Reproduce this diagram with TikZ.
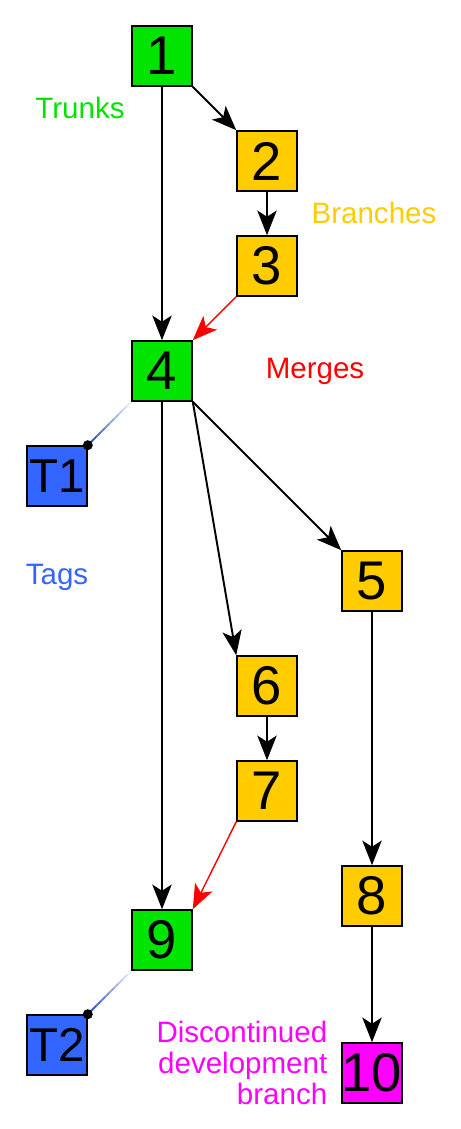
\documentclass[tikz,border=0pt]{standalone}
\usepackage{fontspec}
\setmainfont{Liberation Sans}
\usetikzlibrary{arrows.meta,positioning,calc}
\definecolor{trunkgreen}{RGB}{0,228,0}
\definecolor{branchgold}{RGB}{255,204,0}
\definecolor{tagblue}{RGB}{51,102,255}
\definecolor{deadmagenta}{RGB}{255,0,255}

\begin{document}
\begin{tikzpicture}[->,>={Stealth[length=14pt,width=11pt,inset=3.5pt]},node distance=2.1cm,line width=1.1pt,
        revbox/.style={draw,line width=0.9pt,minimum size=1.2cm,inner sep=0pt,font=\fontsize{31}{31}\selectfont},
        trunk/.style={revbox,fill=trunkgreen},
        branch/.style={revbox,fill=branchgold},
        dead/.style={revbox,fill=deadmagenta},
        tag/.style={revbox,fill=tagblue,font=\fontsize{27}{27}\selectfont},
        legendtext/.style={inner sep=0pt,font=\fontsize{16.8}{17.6}\selectfont},
        merge/.style={red,line width=0.8pt}]
        \useasboundingbox (0,0) rectangle (9.2,-22.58);

        \node[trunk] (one) at (3.24,-1.12)
            {1};

        \node[branch] (two) [below of=one, xshift=2.1cm]
            {2};

        \node[branch] (three) [below of=two]
            {3};

        \node[trunk] (four) [below of=three, xshift=-2.1cm]
            {4};

        \node[tag] (tone) [below of=four, xshift=-2.1cm]
            {T1};

        \node[branch] (five) [below of=four, xshift=4.2cm, yshift=-2.1cm]
            {5};

        \node[branch] (six) [below of=five, xshift=-2.1cm]
            {6};

        \node[branch] (seven) [below of=six]
            {7};

        \node[branch] (eight) [below of=seven, xshift=2.1cm]
            {8};

        \node[trunk] (nine) [below of=seven, xshift=-2.1cm, yshift=-0.88cm]
            {9};

        \node[tag] (ttwo) [below of=nine, xshift=-2.1cm]
            {T2};

        \node[dead] (ten) [below of=eight, yshift=-1.44cm]
            {\makebox[0pt]{10}};

        % legend
        \node[legendtext, text=trunkgreen] (trunks) [left of=one, xshift=0.46cm, yshift=-1.04cm]
            {Trunks};

        \node[legendtext, text=branchgold] (branches) [right of=two, xshift=0.04cm, yshift=-1.04cm]
            {Branches};

        \node[legendtext, text=red] (merges) [right of=four, xshift=0.96cm]
            {Merges};

        \node[legendtext, text=tagblue] (tags) [below of=tone, yshift=0.08cm]
            {Tags};

        \node[legendtext, text=deadmagenta, align=right] (discontinued) [left=0.26cm of ten, yshift=0.2cm]
            {Discontinued\\development\\branch};

        \path
        (one)               edge                (two)
        (one)               edge                (four)
        (two)               edge                (three)
        (three)             edge[merge]         (four)
        (four)              edge                (nine)
        (four.south east)   edge                (six.north west)
        (four)              edge                (five)
        (five)              edge                (eight)
        (six)               edge                (seven)
        (seven.south west)  edge[merge]         (nine.north east)
        (eight)             edge                (ten)
        ;

        % tags hang off the trunk, fading in
        \foreach \rev/\tg in {four/tone, nine/ttwo} {
            \foreach \i [evaluate=\i as \a using \i/10, evaluate=\i as \b using (\i+1)/10,
                         evaluate=\i as \pct using int(10+\i*10)] in {0,...,9}
                \draw[-, line width=1.1pt, tagblue!75!black!\pct]
                    ($(\rev.south west)!\a!(\tg.north east)$) -- ($(\rev.south west)!\b!(\tg.north east)$);
            \fill (\tg.north east) circle (0.1cm);
        }
    \end{tikzpicture}
\end{document}
